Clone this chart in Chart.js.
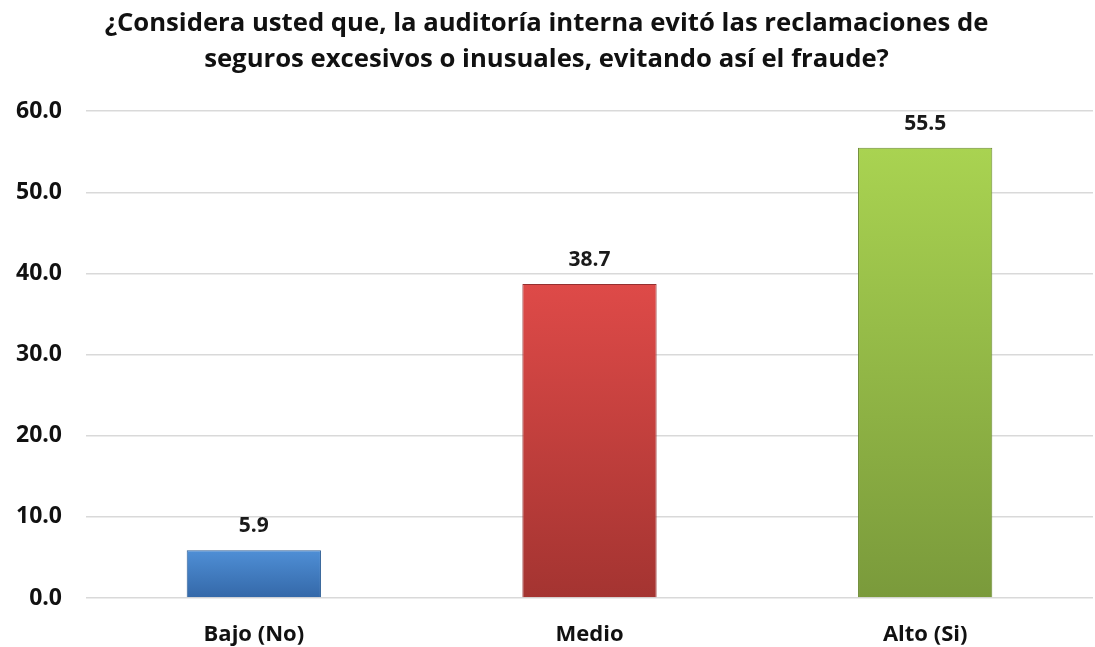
<!DOCTYPE html>
<html>
<head>
<meta charset="utf-8">
<script src="https://cdn.jsdelivr.net/npm/chart.js@4"></script>
<style>
  html, body { margin: 0; padding: 0; background: #fff; }
  #wrap { width: 1095px; height: 647px; }
</style>
</head>
<body>
<div id="wrap"><canvas id="grafico" width="1095" height="647"></canvas></div>
<script>
const categorias = ['Bajo (No)', 'Medio', 'Alto (Si)'];
const porcentajes = [5.9, 38.7, 55.5];
const ticksY = [0, 10, 20, 30, 40, 50, 60];
const titulo = ['¿Considera usted que, la auditoría interna evitó las reclamaciones de',
                'seguros excesivos o inusuales, evitando así el fraude?'];

// colores de arriba (claro) y abajo (oscuro) de cada barra
const coloresArriba = ['#4f8fd6', '#de4a48', '#a9d351'];
const coloresAbajo = ['#3468a8', '#a43431', '#7a9a3b'];
const bordes = ['#2f5f96', '#963030', '#6c8a34'];

const fuente = '"Open Sans", Calibri, "Liberation Sans", sans-serif';

function degradado(context) {
    const chart = context.chart;
    const area = chart.chartArea;
    if (!area) return coloresArriba[context.dataIndex];
    const y = chart.scales.y;
    const top = y.getPixelForValue(porcentajes[context.dataIndex]);
    const base = y.getPixelForValue(0);
    const g = chart.ctx.createLinearGradient(0, top, 0, base);
    g.addColorStop(0, coloresArriba[context.dataIndex]);
    g.addColorStop(1, coloresAbajo[context.dataIndex]);
    return g;
}

// etiquetas de valor encima de cada barra
const etiquetas = {
    id: 'etiquetas',
    afterDatasetsDraw(chart) {
        const ctx = chart.ctx;
        const meta = chart.getDatasetMeta(0);
        ctx.save();
        ctx.font = 'bold 21px ' + fuente;
        ctx.fillStyle = '#1a1a1a';
        ctx.textAlign = 'center';
        ctx.textBaseline = 'middle';
        meta.data.forEach((bar, i) => {
            ctx.fillText(porcentajes[i].toFixed(1), bar.x, bar.y - 24);
        });
        ctx.restore();
    }
};

new Chart(document.getElementById('grafico').getContext('2d'), {
    type: 'bar',
    data: {
        labels: categorias,
        datasets: [{
            data: porcentajes,
            backgroundColor: degradado,
            borderColor: bordes,
            borderWidth: 1,
            barPercentage: 0.4,
            categoryPercentage: 1.0
        }]
    },
    options: {
        responsive: false,
        animation: false,
        layout: { padding: { left: 0, right: 2, top: 6, bottom: 0 } },
        plugins: {
            legend: { display: false },
            tooltip: { enabled: false },
            title: {
                display: true,
                text: titulo,
                color: '#111',
                font: { family: fuente, size: 25.7, weight: 'bold', lineHeight: 1.385 },
                padding: { top: 0, bottom: 34 }
            }
        },
        scales: {
            x: {
                grid: { display: false },
                border: { display: false },
                afterFit(axis) { axis.height = 49; },
                ticks: {
                    color: '#111',
                    padding: 16,
                    font: { family: fuente, size: 22, weight: 'bold' }
                }
            },
            y: {
                min: 0,
                max: 60,
                afterBuildTicks(axis) {
                    axis.ticks = ticksY.map(v => ({ value: v }));
                },
                afterFit(axis) { axis.width = 86; },
                grid: { color: '#d9d9d9', lineWidth: 1.5, drawTicks: false },
                border: { display: false },
                ticks: {
                    color: '#111',
                    padding: 24,
                    font: { family: fuente, size: 23, weight: 'bold' },
                    callback: v => Number(v).toFixed(1)
                }
            }
        }
    },
    plugins: [etiquetas]
});
</script>
</body>
</html>
